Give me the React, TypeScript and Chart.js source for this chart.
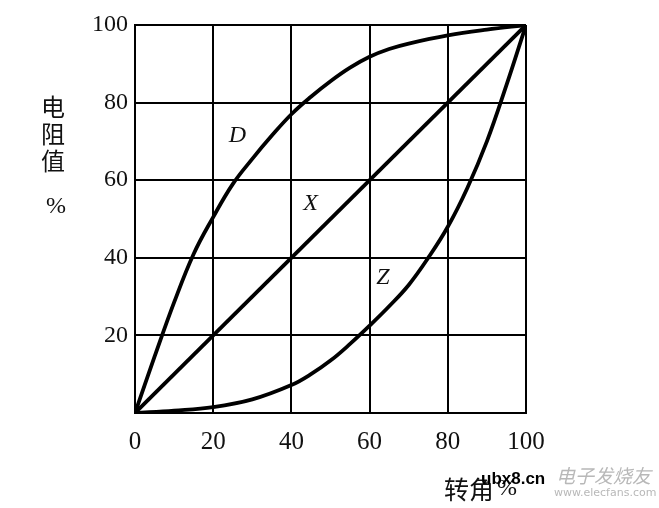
import React, { useEffect, useRef } from "react";
import { Chart, registerables } from "chart.js";

Chart.register(...registerables);

const xTicks = [0, 20, 40, 60, 80, 100];
const yTicks = [0, 20, 40, 60, 80, 100];

const lineXx = [0, 100];
const lineXy = [0, 100];

const curveDx = [0, 5, 10, 15, 20, 25, 30, 35, 40, 45, 50, 55, 60, 65, 70, 80, 90, 100];
const curveDy = [0, 14.5, 28.5, 41, 50.5, 59, 65.5, 71.5, 77, 81.5, 85.5, 89, 91.8, 93.8, 95.2, 97.3, 98.8, 100];

const curveZx = [0, 10, 20, 30, 40, 45, 50, 55, 60, 65, 70, 75, 80, 85, 90, 95, 100];
const curveZy = [0, 0.6, 1.5, 3.5, 7.2, 10, 13.5, 17.8, 22.5, 27.5, 33, 40, 48, 58, 70, 84.5, 100];

const curveLabels = ["D", "X", "Z"];
const curveLabelX = [26.2, 44.9, 63.4];
const curveLabelY = [71.6, 54, 35];

const yTitleChars = ["电", "阻", "值"];
const xTitle = "转角";

const pts = (xs: number[], ys: number[]) => xs.map((x, i) => ({ x, y: ys[i] }));

const textPlugin = {
  id: "textPlugin",
  afterDraw(chart: any) {
    const ctx = chart.ctx;
    const xs = chart.scales.x;
    const ys = chart.scales.y;
    ctx.save();
    ctx.fillStyle = "#111";
    ctx.textAlign = "center";
    ctx.textBaseline = "middle";
    // curve labels
    ctx.font = "italic 24px 'Liberation Serif', serif";
    curveLabels.forEach((t, i) => {
      ctx.fillText(t, xs.getPixelForValue(curveLabelX[i]), ys.getPixelForValue(curveLabelY[i]));
    });
    // y title
    ctx.font = "24px 'Noto Sans CJK SC', sans-serif";
    const yc = [107, 134, 161];
    yTitleChars.forEach((c, i) => ctx.fillText(c, 53, yc[i]));
    ctx.font = "24px 'Liberation Serif', serif";
    ctx.fillText("%", 56, 207);
    // x title
    ctx.font = "25px 'Noto Sans CJK SC', sans-serif";
    ctx.textAlign = "left";
    ctx.fillText(xTitle, 444, 489);
    ctx.font = "24px 'Liberation Serif', serif";
    ctx.fillText("%", 497, 489);
    // watermark
    ctx.font = "bold 17px 'Liberation Sans', sans-serif";
    ctx.fillStyle = "#000";
    ctx.fillText("ubx8.cn", 481, 479);
    ctx.fillStyle = "#b8b8b8";
    ctx.font = "italic 19px 'Noto Sans CJK SC', sans-serif";
    ctx.fillText("电子发烧友", 556, 476);
    ctx.font = "11px 'DejaVu Sans', sans-serif";
    ctx.fillText("www.elecfans.com", 554, 493);
    ctx.restore();
  },
};

export default function App() {
  const ref = useRef<HTMLCanvasElement | null>(null);
  useEffect(() => {
    if (!ref.current) return;
    const ds = (label: string, data: any[]) => ({
      label,
      data,
      borderColor: "#000",
      borderWidth: 3.8,
      pointRadius: 0,
      fill: false,
      tension: 0.4,
    });
    const chart = new Chart(ref.current, {
      type: "line",
      data: {
        datasets: [
          ds("D", pts(curveDx, curveDy)),
          { ...ds("X", pts(lineXx, lineXy)), tension: 0 },
          ds("Z", pts(curveZx, curveZy)),
        ],
      },
      options: {
        animation: false,
        responsive: false,
        layout: { padding: { left: 0, top: 25, right: 133, bottom: 0 } },
        plugins: { legend: { display: false }, tooltip: { enabled: false } },
        scales: {
          x: {
            type: "linear",
            min: 0,
            max: 100,
            afterBuildTicks: (s: any) => {
              s.ticks = xTicks.map((v) => ({ value: v }));
            },
            afterFit: (s: any) => {
              s.height = 95;
            },
            grid: { color: "#000", lineWidth: 2, drawTicks: false },
            border: { color: "#000", width: 2 },
            ticks: {
              color: "#111",
              font: { family: "'Liberation Serif', serif", size: 25 },
              padding: 14,
              maxRotation: 0,
              autoSkip: false,
            },
          },
          y: {
            type: "linear",
            min: 0,
            max: 100,
            afterBuildTicks: (s: any) => {
              s.ticks = yTicks.map((v) => ({ value: v }));
            },
            afterFit: (s: any) => {
              s.width = 135;
            },
            grid: { color: "#000", lineWidth: 2, drawTicks: false },
            border: { color: "#000", width: 2 },
            ticks: {
              color: "#111",
              font: { family: "'Liberation Serif', serif", size: 24 },
              padding: 7,
              autoSkip: false,
              callback: (v: any) => (v === 0 ? "" : String(v)),
            },
          },
        },
      },
      plugins: [textPlugin],
    });
    return () => chart.destroy();
  }, []);
  return (
    <div style={{ position: "absolute", left: 0, top: 0, width: 659, height: 508, background: "#fff" }}>
      <canvas ref={ref} width={659} height={508} />
    </div>
  );
}
